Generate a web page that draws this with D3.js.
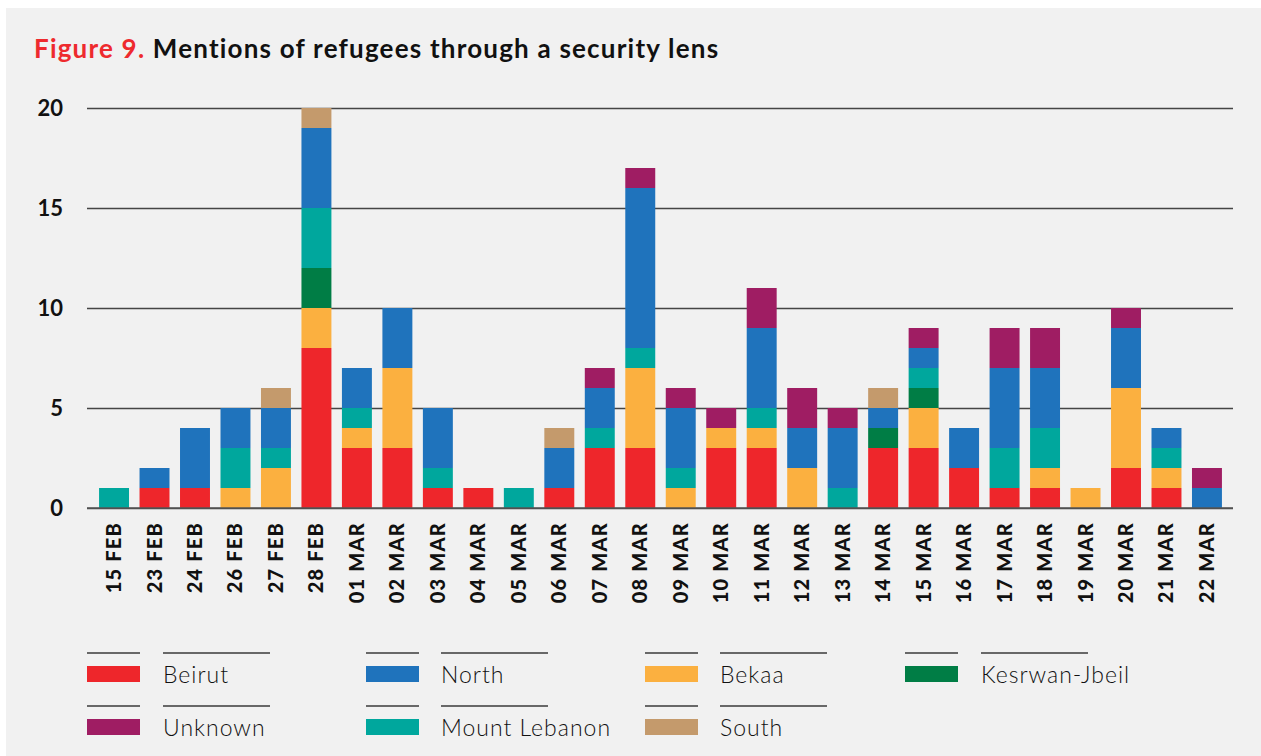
<!DOCTYPE html>
<html>
<head>
<meta charset="utf-8">
<script src="https://cdn.jsdelivr.net/npm/d3@7"></script>
<style>
  html, body { margin: 0; padding: 0; background: #ffffff; }
  svg { display: block; }
</style>
</head>
<body>
<svg id="chart" width="1261" height="756"></svg>
<script>
// Dates of coverage
const dates = ["15 FEB","23 FEB","24 FEB","26 FEB","27 FEB","28 FEB","01 MAR","02 MAR","03 MAR","04 MAR",
  "05 MAR","06 MAR","07 MAR","08 MAR","09 MAR","10 MAR","11 MAR","12 MAR","13 MAR","14 MAR",
  "15 MAR","16 MAR","17 MAR","18 MAR","19 MAR","20 MAR","21 MAR","22 MAR"];

// Mentions per region, one value per date
const beirut        = [0,1,1,0,0,8,3,3,1,1,0,1,3,3,0,3,3,0,0,3,3,2,1,1,0,2,1,0];
const bekaa         = [0,0,0,1,2,2,1,4,0,0,0,0,0,4,1,1,1,2,0,0,2,0,0,1,1,4,1,0];
const kesrwanJbeil  = [0,0,0,0,0,2,0,0,0,0,0,0,0,0,0,0,0,0,0,1,1,0,0,0,0,0,0,0];
const mountLebanon  = [1,0,0,2,1,3,1,0,1,0,1,0,1,1,1,0,1,0,1,0,1,0,2,2,0,0,1,0];
const north         = [0,1,3,2,2,4,2,3,3,0,0,2,2,8,3,0,4,2,3,1,1,2,4,3,0,3,1,1];
const south         = [0,0,0,0,1,1,0,0,0,0,0,1,0,0,0,0,0,0,0,1,0,0,0,0,0,0,0,0];
const unknown       = [0,0,0,0,0,0,0,0,0,0,0,0,1,1,1,1,2,2,1,0,1,0,2,2,0,1,0,1];

const yTicks = [0, 5, 10, 15, 20];

// Series in stacking order (bottom to top)
const series = [
  { key: "Beirut",        values: beirut,       color: "#ee262b" },
  { key: "Bekaa",         values: bekaa,        color: "#fbb040" },
  { key: "Kesrwan-Jbeil", values: kesrwanJbeil, color: "#007d45" },
  { key: "Mount Lebanon", values: mountLebanon, color: "#00a79d" },
  { key: "North",         values: north,        color: "#1f73bc" },
  { key: "South",         values: south,        color: "#c49a6c" },
  { key: "Unknown",       values: unknown,      color: "#9f1d63" }
];

// Legend layout order (two rows)
const legendRows = [
  ["Beirut", "North", "Bekaa", "Kesrwan-Jbeil"],
  ["Unknown", "Mount Lebanon", "South"]
];

const svg = d3.select("#chart");
const W = 1261, H = 756;
const FONT = "Lato, 'Open Sans', sans-serif";

// Panel background
svg.append("rect").attr("x", 6).attr("y", 8).attr("width", W - 6).attr("height", H - 8).attr("fill", "#f1f1f1");

// Title
const title = svg.append("text")
  .attr("x", 34).attr("y", 58)
  .attr("font-family", FONT)
  .attr("font-weight", 700)
  .attr("font-size", 26)
  .attr("letter-spacing", 1.2);
title.append("tspan").attr("fill", "#ee2a2e").text("Figure 9. ");
title.append("tspan").attr("fill", "#111111").text("Mentions of refugees through a security lens");

// Scales
const plotLeft = 87, plotRight = 1233;
const x = d3.scaleBand().domain(dates).range([93.8, 1227.2]).paddingInner(0.26).paddingOuter(0.13);
const y = d3.scaleLinear().domain([0, 20]).range([508, 108]);

// Gridlines + y labels
const yAxis = d3.axisLeft(y).tickValues(yTicks).tickSize(-(plotRight - plotLeft)).tickPadding(24);
const gy = svg.append("g").attr("transform", `translate(${plotLeft},0)`).call(yAxis);
gy.select(".domain").remove();
gy.selectAll(".tick line").attr("stroke", "#454545").attr("stroke-width", 1.6);
gy.selectAll(".tick text")
  .attr("font-family", FONT)
  .attr("font-weight", 700)
  .attr("font-size", 22)
  .attr("fill", "#111");

// Stacked bars
const table = dates.map((d, i) => {
  const row = { date: d };
  series.forEach(s => row[s.key] = s.values[i]);
  return row;
});
const stack = d3.stack().keys(series.map(s => s.key));
const layers = stack(table);
const colorOf = Object.fromEntries(series.map(s => [s.key, s.color]));

svg.append("g").selectAll("g").data(layers).join("g")
  .attr("fill", d => colorOf[d.key])
  .selectAll("rect").data(d => d.filter(p => p[1] > p[0])).join("rect")
  .attr("x", d => x(d.data.date))
  .attr("width", x.bandwidth())
  .attr("y", d => y(d[1]))
  .attr("height", d => y(d[0]) - y(d[1]));

// Baseline redrawn over bars
svg.append("line").attr("x1", plotLeft).attr("x2", plotRight)
  .attr("y1", y(0)).attr("y2", y(0)).attr("stroke", "#555").attr("stroke-width", 1.6);

// Rotated date labels
const xAxis = d3.axisBottom(x).tickSize(0).tickPadding(0);
const gx = svg.append("g").attr("transform", `translate(0,${y(0)})`).call(xAxis);
gx.select(".domain").remove();
gx.selectAll(".tick text")
  .attr("font-family", FONT)
  .attr("font-weight", 900)
  .attr("font-size", 20)
  .attr("letter-spacing", 1.2)
  .attr("fill", "#111")
  .attr("text-anchor", "end")
  .attr("dy", null)
  .attr("y", 0)
  .attr("transform", "translate(7,14) rotate(-90)");

// Legend
const colX = [[87, 163], [366, 441], [645, 720], [905, 981]];
const rowY = [653, 706];
legendRows.forEach((row, r) => {
  row.forEach((key, c) => {
    const g = svg.append("g");
    const [sx, lx] = colX[c];
    const ly = rowY[r];
    g.append("line").attr("x1", sx).attr("x2", sx + 53).attr("y1", ly).attr("y2", ly)
      .attr("stroke", "#3a3a3a").attr("stroke-width", 1.5);
    g.append("line").attr("x1", lx).attr("x2", lx + 107).attr("y1", ly).attr("y2", ly)
      .attr("stroke", "#3a3a3a").attr("stroke-width", 1.5);
    g.append("rect").attr("x", sx).attr("y", ly + 13).attr("width", 53).attr("height", 16)
      .attr("fill", colorOf[key]);
    g.append("text").attr("x", lx).attr("y", ly + 30)
      .attr("font-family", FONT)
      .attr("font-weight", 300)
      .attr("font-size", 23)
      .attr("letter-spacing", 1)
      .attr("fill", "#111")
      .text(key);
  });
});
</script>
</body>
</html>
